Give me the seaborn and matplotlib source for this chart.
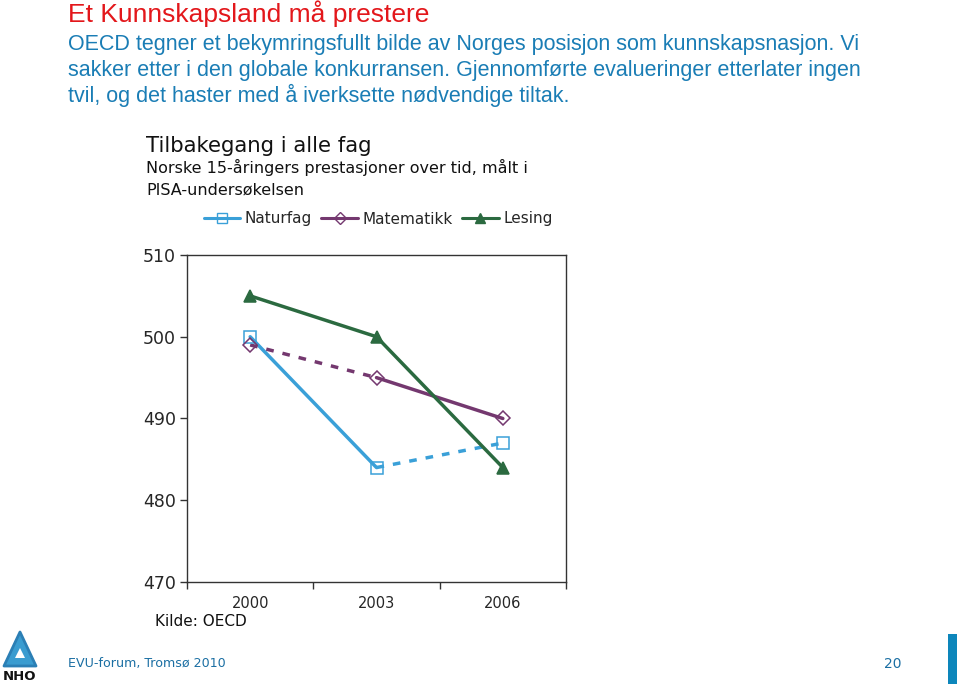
import matplotlib
matplotlib.use("Agg")
import matplotlib.pyplot as plt
import seaborn as sns
import pandas as pd
from matplotlib.lines import Line2D
from matplotlib.patches import Polygon, Rectangle

# ---- data ----
years = ["2000", "2003", "2006"]
naturfag = [500, 484, 487]
matematikk = [499, 495, 490]
lesing = [505, 500, 484]
series_names = ["Naturfag", "Matematikk", "Lesing"]
# segment styles (between consecutive years): solid / dashed
naturfag_seg = ["solid", "dashed"]
matematikk_seg = ["dashed", "solid"]
lesing_seg = ["solid", "solid"]
y_ticks = [470, 480, 490, 500, 510]

colors = {"Naturfag": "#3aa0d8", "Matematikk": "#74386f", "Lesing": "#2b6a40"}
markers = {"Naturfag": "s", "Matematikk": "D", "Lesing": "^"}
mfill = {"Naturfag": "none", "Matematikk": "none", "Lesing": "#2b6a40"}

sns.set_style("white")
plt.rcParams["font.family"] = ["DejaVu Sans"]

rows = []
pts = []
for name, vals, segs in [("Naturfag", naturfag, naturfag_seg),
                         ("Matematikk", matematikk, matematikk_seg),
                         ("Lesing", lesing, lesing_seg)]:
    for i, st in enumerate(segs):
        for j in (i, i + 1):
            rows.append({"serie": name, "seg": f"{name}{i}", "style": st,
                         "x": j, "y": vals[j]})
    for j, v in enumerate(vals):
        pts.append({"serie": name, "x": j, "y": v})
df = pd.DataFrame(rows)
dp = pd.DataFrame(pts)

fig = plt.figure(figsize=(9.6, 6.84), dpi=100)
ax = fig.add_axes([187 / 960, 1 - 582 / 684, (566 - 187) / 960, (582 - 255) / 684])

sns.lineplot(data=df, x="x", y="y", hue="serie", style="style", units="seg",
             estimator=None, palette=colors,
             dashes={"solid": "", "dashed": (2.2, 2.6)},
             linewidth=2.5, legend=False, ax=ax, sort=False)
for name in series_names:
    sub = dp[dp.serie == name]
    ax.plot(sub.x, sub.y, linestyle="none", marker=markers[name],
            markersize=8 if name != "Matematikk" else 7,
            markerfacecolor=mfill[name], markeredgecolor=colors[name],
            markeredgewidth=1.1)

ax.set_xlim(-0.5, 2.5)
ax.set_ylim(470, 510)
ax.set_yticks(y_ticks)
ax.set_yticklabels([str(t) for t in y_ticks], fontsize=12.5)
ax.set_xticks(range(len(years)))
ax.set_xticklabels(years, fontsize=10.5)
ax.set_xticks([-0.5, 0.5, 1.5, 2.5], minor=True)
ax.tick_params(axis="x", which="major", length=0, pad=10)
ax.tick_params(axis="x", which="minor", length=5, width=1, color="#333333", bottom=True)
ax.tick_params(axis="y", which="major", length=5, width=1, color="#333333", left=True, pad=3)
ax.set_xlabel("")
ax.set_ylabel("")
for s in ax.spines.values():
    s.set_color("#333333")
    s.set_linewidth(1.0)

handles = [Line2D([0], [0], color=colors[n], lw=2.2, marker=markers[n],
                  markersize=7 if n != "Matematikk" else 6,
                  markerfacecolor=mfill[n], markeredgecolor=colors[n])
           for n in series_names]
fig.legend(handles, series_names, loc="center", bbox_to_anchor=(378 / 960, 1 - 219 / 684),
           ncol=3, frameon=False, fontsize=11, handlelength=2.4, handletextpad=0.3,
           columnspacing=0.6)

# ---- headings ----
fig.text(68 / 960, 1 - 14 / 684, "Et Kunnskapsland må prestere", color="#e3171b",
         fontsize=19, va="center", ha="left", family=["Liberation Sans"])
sub_lines = ["OECD tegner et bekymringsfullt bilde av Norges posisjon som kunnskapsnasjon. Vi",
             "sakker etter i den globale konkurransen. Gjennomførte evalueringer etterlater ingen",
             "tvil, og det haster med å iverksette nødvendige tiltak."]
for k, line in enumerate(sub_lines):
    fig.text(68 / 960, 1 - (50 + 26 * k) / 684, line, color="#1a7db5", fontsize=15.5,
             va="baseline", ha="left", family=["Liberation Sans"])

fig.text(146 / 960, 1 - 146 / 684, "Tilbakegang i alle fag", fontsize=15.3,
         va="center", ha="left", color="#111111")
chart_sub = ["Norske 15-åringers prestasjoner over tid, målt i", "PISA-undersøkelsen"]
for k, line in enumerate(chart_sub):
    fig.text(146 / 960, 1 - (173 + 21 * k) / 684, line, fontsize=11.5, va="baseline",
             ha="left", color="#111111")
fig.text(155 / 960, 1 - 622 / 684, "Kilde: OECD", fontsize=11, va="center", ha="left",
         color="#111111")

# ---- footer ----
fig.text(68 / 960, 1 - 664 / 684, "EVU-forum, Tromsø 2010", fontsize=9.1, va="center",
         ha="left", color="#1b6fa3")
fig.text(884 / 960, 1 - 664 / 684, "20", fontsize=10, va="center", ha="left",
         color="#1b6fa3")
fig.patches.append(Rectangle((948 / 960, 0), 9 / 960, 50 / 684, transform=fig.transFigure,
                             facecolor="#0d86bb", edgecolor="none"))

# NHO logo (simplified)
tri = [(4 / 960, 1 - 666 / 684), (20 / 960, 1 - 632 / 684), (36 / 960, 1 - 666 / 684)]
fig.patches.append(Polygon(tri, closed=True, transform=fig.transFigure,
                           facecolor="#3a9cd0", edgecolor="#2b7fb5", linewidth=2,
                           joinstyle="round"))
tri2 = [(15 / 960, 1 - 658 / 684), (20 / 960, 1 - 648 / 684), (25 / 960, 1 - 658 / 684)]
fig.patches.append(Polygon(tri2, closed=True, transform=fig.transFigure,
                           facecolor="#ffffff", edgecolor="none"))
fig.text(20 / 960, 1 - 676 / 684, "NHO", fontsize=9.5, va="center", ha="center",
         color="#111111", weight="bold")

fig.savefig("out.png", dpi=100)
